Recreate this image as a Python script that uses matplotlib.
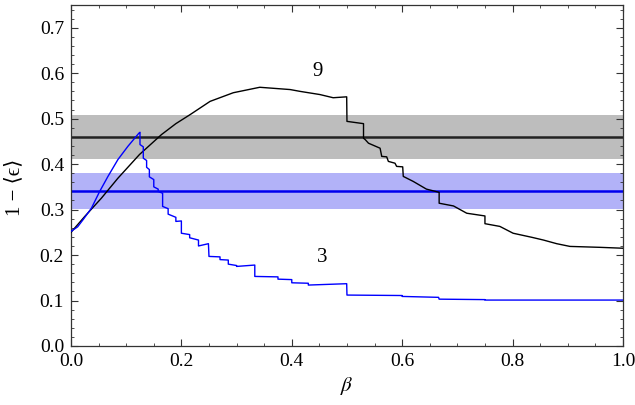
import numpy as np
import matplotlib.pyplot as plt
from matplotlib.ticker import MultipleLocator

plt.rcParams['font.family'] = ['Liberation Serif', 'DejaVu Serif']
plt.rcParams['mathtext.fontset'] = 'stix'

# curve for 3 (blue); repeated beta = vertical step
beta_3 = [0.0, 0.012, 0.022, 0.037, 0.052, 0.067, 0.085, 0.103, 0.123, 0.125,
          0.125, 0.131, 0.131, 0.137, 0.137, 0.142, 0.142, 0.150, 0.150,
          0.158, 0.158, 0.166, 0.166, 0.176, 0.176, 0.190, 0.190, 0.200, 0.200,
          0.215, 0.215, 0.231, 0.231, 0.249, 0.250, 0.270, 0.270, 0.285, 0.285,
          0.300, 0.300, 0.333, 0.333, 0.375, 0.375, 0.400, 0.400, 0.430, 0.430,
          0.4995, 0.50, 0.600, 0.600, 0.666, 0.667, 0.750, 0.750, 1.0]
eps_3 = [0.252, 0.262, 0.278, 0.303, 0.340, 0.373, 0.410, 0.439, 0.468, 0.470,
         0.443, 0.438, 0.413, 0.408, 0.393, 0.388, 0.372, 0.366, 0.350,
         0.345, 0.340, 0.336, 0.307, 0.302, 0.290, 0.283, 0.274, 0.275, 0.248,
         0.245, 0.238, 0.233, 0.220, 0.225, 0.197, 0.196, 0.190, 0.189, 0.180,
         0.177, 0.175, 0.178, 0.153, 0.152, 0.147, 0.146, 0.139, 0.138, 0.134,
         0.137, 0.112, 0.111, 0.109, 0.107, 0.103, 0.102, 0.101, 0.101]

# curve for 9 (black)
beta_9 = [0.0, 0.025, 0.055, 0.085, 0.124, 0.164, 0.190, 0.216, 0.252, 0.294,
          0.342, 0.397, 0.415, 0.451, 0.475, 0.4995, 0.50, 0.53, 0.53, 0.533,
          0.539, 0.560, 0.563, 0.572, 0.575, 0.587, 0.590, 0.601, 0.602, 0.620,
          0.644, 0.667, 0.667, 0.693, 0.717, 0.75, 0.75, 0.777, 0.801, 0.835,
          0.856, 0.88, 0.904, 0.958, 1.0]
eps_9 = [0.250, 0.285, 0.325, 0.369, 0.421, 0.465, 0.489, 0.509, 0.538, 0.557,
         0.569, 0.564, 0.560, 0.553, 0.546, 0.548, 0.494, 0.489, 0.457, 0.454,
         0.446, 0.435, 0.417, 0.416, 0.406, 0.402, 0.395, 0.394, 0.373, 0.362,
         0.345, 0.338, 0.314, 0.308, 0.292, 0.286, 0.269, 0.263, 0.248, 0.239,
         0.233, 0.225, 0.219, 0.217, 0.215]

# mean values and bands
mean_9, lo_9, hi_9 = 0.460, 0.412, 0.509
mean_3, lo_3, hi_3 = 0.340, 0.301, 0.380

fig = plt.figure(figsize=(6.35, 4.05), dpi=100)
ax = fig.add_axes([0.1118, 0.1457, 0.8692, 0.842])

ax.axhspan(lo_9, hi_9, color='#bdbdbd', lw=0, zorder=1)
ax.axhspan(lo_3, hi_3, color='#b2b2f8', lw=0, zorder=1)
ax.axhline(mean_9, color='#222222', lw=1.8, zorder=2)
ax.axhline(mean_3, color='#0000ee', lw=1.8, zorder=2)

ax.plot(beta_9, eps_9, color='black', lw=1.0, zorder=3)
ax.plot(beta_3, eps_3, color='#0000ff', lw=1.0, zorder=3)

ax.text(0.447, 0.604, '9', fontsize=15, ha='center', va='center')
ax.text(0.455, 0.194, '3', fontsize=15, ha='center', va='center')

ax.set_xlim(0, 1)
ax.set_ylim(0, 0.75)
ax.xaxis.set_major_locator(MultipleLocator(0.2))
ax.xaxis.set_minor_locator(MultipleLocator(0.05))
ax.yaxis.set_major_locator(MultipleLocator(0.1))
ax.yaxis.set_minor_locator(MultipleLocator(0.02))
ax.xaxis.set_major_formatter(lambda v, p: f'{v:.1f}')
ax.yaxis.set_major_formatter(lambda v, p: f'{v:.1f}')
ax.tick_params(which='both', direction='in', top=True, right=True,
               labelsize=14, color='#333333')
ax.tick_params(which='major', length=5, width=0.8, pad=5)
ax.tick_params(which='minor', length=2.5, width=0.6)
for s in ax.spines.values():
    s.set_linewidth(0.9)
    s.set_color('#333333')

ax.set_xlabel(r'$\beta$', fontsize=15)
ax.set_ylabel('1 \u2212 \u27e8\u03f5\u27e9', fontsize=15,
              family=['Liberation Serif', 'DejaVu Serif'])
ax.yaxis.set_label_coords(-0.085, 0.465)

fig.savefig('out.png', dpi=100)
